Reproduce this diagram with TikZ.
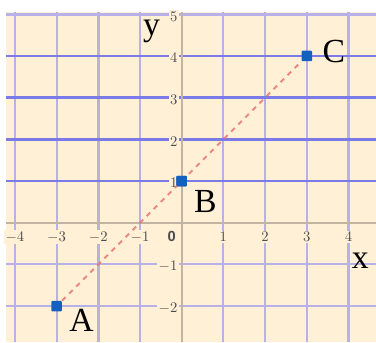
\documentclass[tikz,border=0pt]{standalone}
\usepackage{fontspec}
\setmainfont{Liberation Serif}
\setsansfont{Liberation Sans}
\definecolor{paper}{RGB}{255,240,214}
\definecolor{gridlilac}{RGB}{184,176,232}
\definecolor{gridblue}{RGB}{122,122,232}
\definecolor{axisgray}{RGB}{194,180,162}
\definecolor{ptblue}{RGB}{20,96,190}
\definecolor{dashred}{RGB}{230,110,110}
\tikzset{
  minor/.style={gridlilac, line width=1.4pt},
  major/.style={gridblue, line width=1.8pt},
  axisline/.style={axisgray, line width=1.5pt},
  ticklbl/.style={fill=paper, inner sep=1pt, text=black!70, font=\sffamily\fontsize{10}{11}\selectfont\bfseries},
  ptmark/.style={rectangle, fill=ptblue, minimum size=0.25cm, inner sep=0pt, rounded corners=0.6pt},
  ptname/.style={font=\fontsize{23}{26}\selectfont, inner sep=0pt},
  linkline/.style={dashred, opacity=0.8, line width=1.4pt, dash pattern=on 3.4pt off 3.4pt}
}
\begin{document}
\begin{tikzpicture}
  \useasboundingbox (-4.357,-2.861) rectangle (4.659,5.341);
  % paper
  \fill[paper] (-4.213,-2.861) rectangle (4.659,5.053);

  % grid
  \foreach \gx in {-4,-3,-1,1,2,3,4}
    \draw[minor] (\gx,-2.861) -- (\gx,5.053);
  \draw[minor, line width=2.2pt, gridlilac!70!axisgray] (-2,-2.861) -- (-2,5.053);
  \foreach \gy in {-2,-1}
    \draw[minor] (-4.213,\gy) -- (4.659,\gy);
  \foreach \gy in {1,2,3,4}
    \draw[major] (-4.213,\gy) -- (4.659,\gy);
  \draw[minor, line width=2pt] (-4.213,5) -- (4.659,5);

  % axes
  \draw[axisline] (-4.213,0) -- (4.659,0);
  \draw[axisline] (0,-2.861) -- (0,5.053);

  % tick labels
  \foreach \tx in {-4,-3,-2,-1,1,2,3,4}
    \node[ticklbl] (xt\tx) at (\tx,-0.34) {$\tx$};
  \node[ticklbl] (xt0) at (-0.24,-0.34) {0};
  \foreach \ty in {-2,-1,1,2,3,4,5}
    \node[ticklbl, anchor=east] (yt\ty) at (-0.06,\ty-0.05) {$\ty$};

  % axis names
  \node[ptname] (ylbl) at (-0.72,4.6) {y};
  \node[ptname] (xlbl) at (4.28,-0.9) {x};

  % points
  \node[ptmark] (A) at (-3,-2) {};
  \node[ptmark] (B) at (0,1) {};
  \node[ptmark] (C) at (3,4) {};
  \draw[linkline] (A) -- (C);
  \node[ptmark] at (B) {};

  \node[ptname] (Alabel) at (-2.40,-2.35) {A};
  \node[ptname] (Blabel) at (0.57,0.52) {B};
  \node[ptname] (Clabel) at (3.65,4.1) {C};
\end{tikzpicture}
\end{document}
